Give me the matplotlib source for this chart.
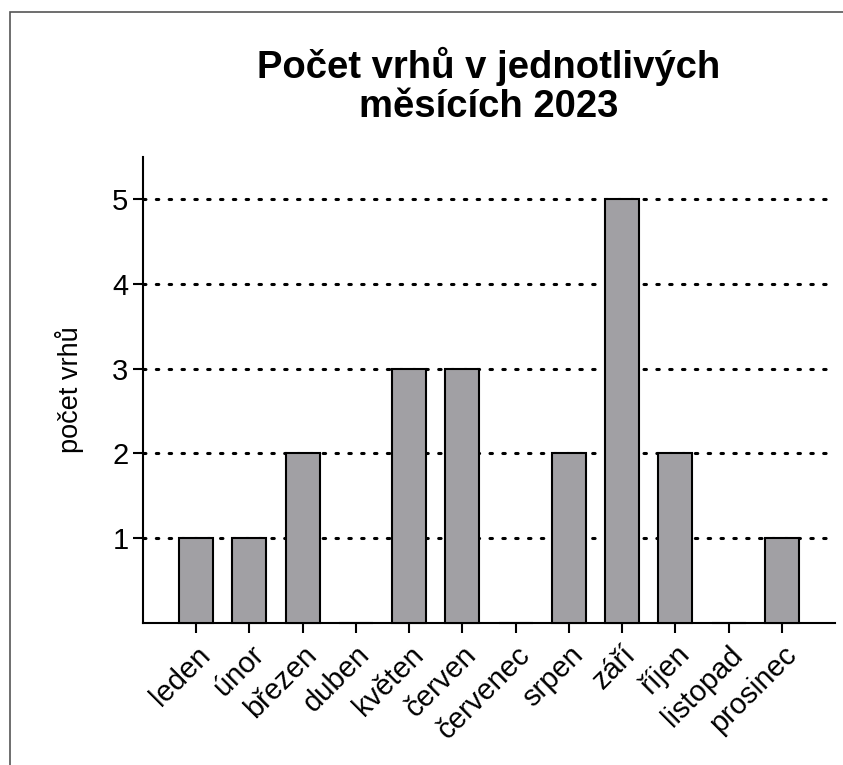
import matplotlib

matplotlib.use("Agg")
import matplotlib.pyplot as plt
from matplotlib.patches import Rectangle
import numpy as np

months = ["leden", "únor", "březen", "duben", "květen", "červen",
          "červenec", "srpen", "září", "říjen", "listopad", "prosinec"]
litters = [1, 1, 2, 0, 3, 3, 0, 2, 5, 2, 0, 1]
y_ticks = [1, 2, 3, 4, 5]

plt.rcParams["font.family"] = ["Liberation Sans", "DejaVu Sans"]

fig = plt.figure(figsize=(8.43, 7.65), dpi=100)
# outer frame (right/bottom edges fall outside the image)
fig.patches.append(Rectangle((10 / 843, -0.1), 1.2, 1 - 12 / 765 + 0.1,
                             transform=fig.transFigure, fill=False,
                             edgecolor="#555555", linewidth=1.2))

ax = fig.add_axes([143 / 843, 1 - 622.5 / 765, (835 - 143) / 843, (622.5 - 157) / 765])
x = np.arange(len(months))
ax.bar(x, litters, width=0.64, color="#a1a0a4", edgecolor="black",
       linewidth=1.5, zorder=3, clip_on=False)

for v in y_ticks:
    ax.axhline(v, color="black", linestyle=(0, (0.8, 3.4)), linewidth=2.2,
               dash_capstyle="round", zorder=1)

ax.set_xlim(-1, 12)
ax.set_ylim(0, 5.5)
ax.set_yticks(y_ticks)
ax.set_xticks(x)
ax.set_xticklabels(months, rotation=45, ha="right", rotation_mode="anchor")
ax.tick_params(axis="both", labelsize=21, width=1.5, length=7, color="black")
ax.tick_params(axis="x", pad=6)
for s in ["top", "right"]:
    ax.spines[s].set_visible(False)
for s in ["left", "bottom"]:
    ax.spines[s].set_linewidth(1.5)

ax.set_ylabel("počet vrhů", fontsize=19.5, labelpad=20)
ax.set_title("Počet vrhů v jednotlivých\nměsících 2023", fontsize=27.5,
             fontweight="bold", pad=29, linespacing=1.1)

fig.savefig("out.png", dpi=100)
